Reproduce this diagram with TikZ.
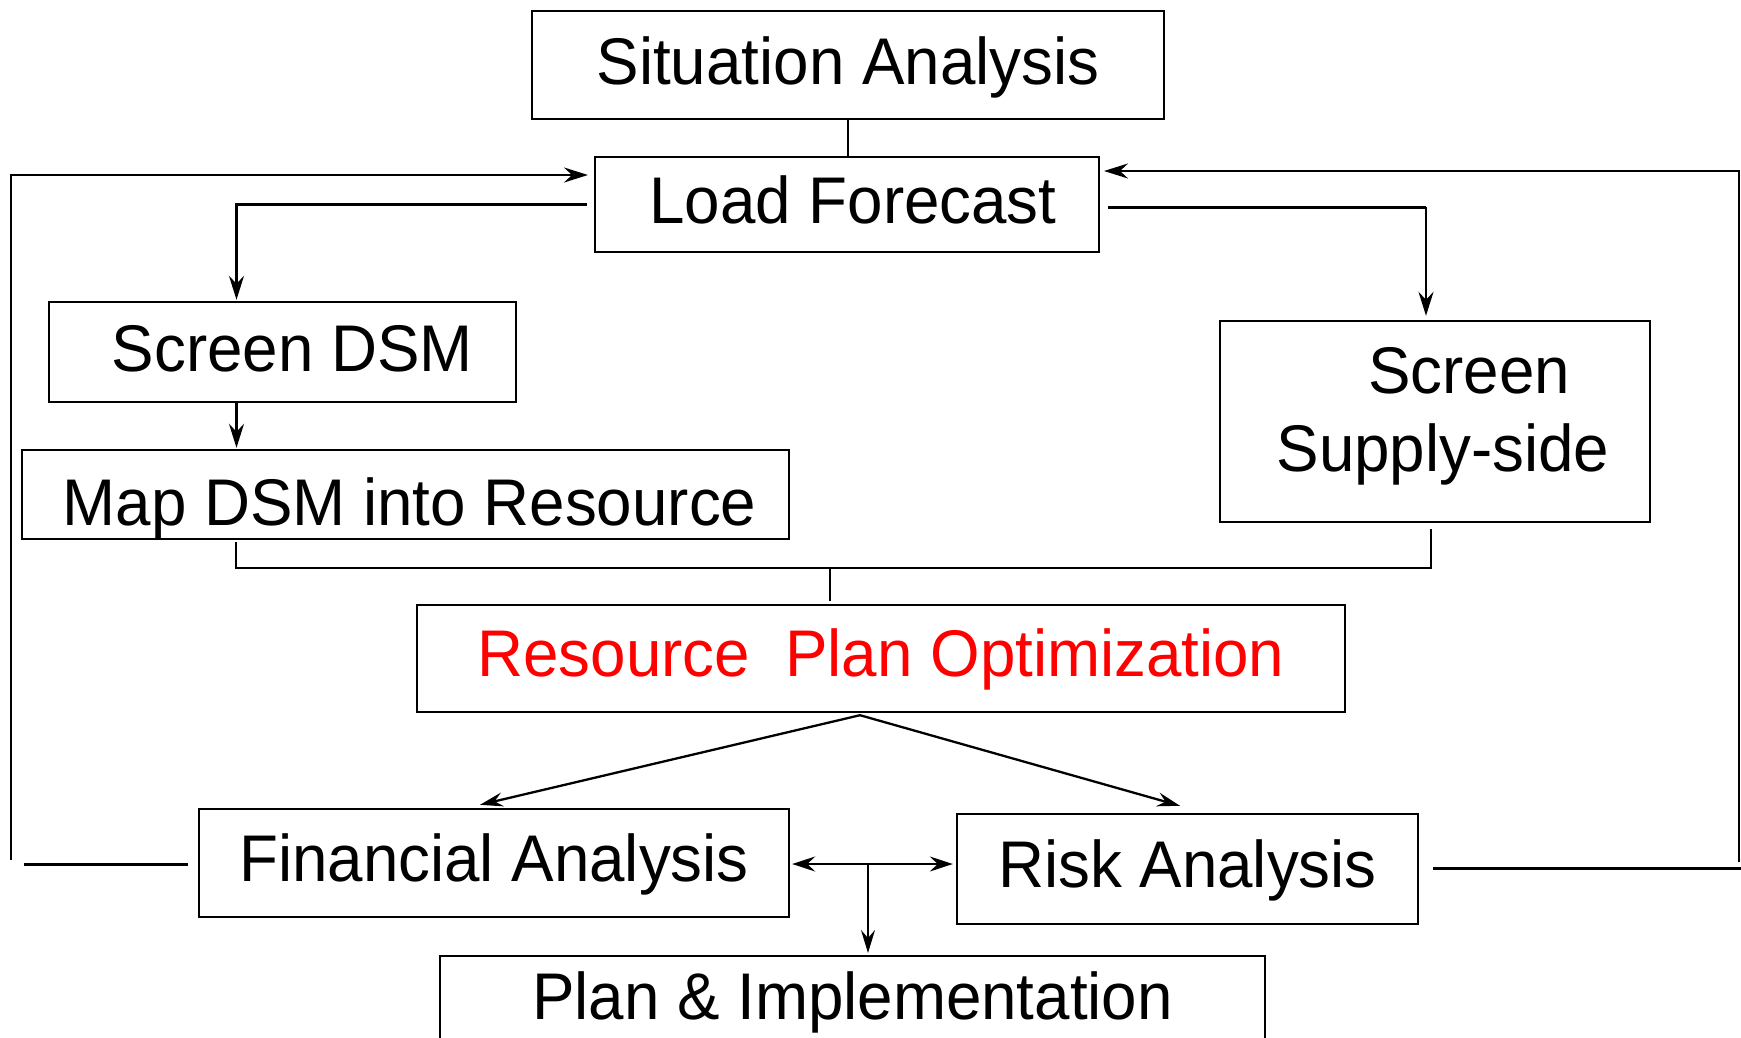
\documentclass[tikz,border=0pt]{standalone}
\usepackage{fontspec}
\setmainfont{Liberation Sans}[FakeStretch=0.965]
\usetikzlibrary{arrows.meta}
\definecolor{optred}{RGB}{255,0,0}
\begin{document}
\begin{tikzpicture}[x=1pt,y=-1pt,
  box/.style={draw,line width=2.4pt,rectangle,inner sep=0pt,font=\fontsize{66}{77}\selectfont,align=center,
    text height=47.3pt,text depth=9pt},
  conn/.style={line width=2.3pt},
  thickconn/.style={line width=3pt},
  bigarr/.style={-{Stealth[length=24pt,width=15pt,inset=8pt]}},
  smallarr/.style={-{Stealth[length=23pt,width=14pt,inset=8pt]}},
  dblarr/.style={{Stealth[length=23pt,width=15pt,inset=8pt]}-{Stealth[length=23pt,width=15pt,inset=8pt]}}]
\clip (0,0) rectangle (1741,1038);
\fill[white] (0,0) rectangle (1741,1038);

\node[box,minimum width=632pt,minimum height=108pt,text depth=8pt] (sa) at (848,65) {Situation Analysis};
\node[box,minimum width=504pt,minimum height=95pt] (lf) at (847,204.5) {\hspace*{12pt}Load Forecast};
\node[box,minimum width=467pt,minimum height=100pt] (sdsm) at (282.5,352) {\hspace*{20pt}Screen DSM};
\node[box,minimum width=767pt,minimum height=89pt,text height=62.3pt,text depth=0pt] (map) at (405.5,494.5) {\hspace*{8pt}Map DSM into Resource};
\node[box,minimum width=430pt,minimum height=201pt,text height=,text depth=] (sup) at (1435,421.5)
  {\raisebox{0pt}[47.3pt][103.1pt]{\begin{tabular}[t]{@{}c@{}}\hspace*{68pt}Screen\\[1pt]\hspace*{16pt}Supply-side\end{tabular}}};
\node[box,minimum width=928pt,minimum height=107pt,text=optred,text depth=11pt] (rpo) at (881,658.5) {Resource\ \ Plan Optimization};
\node[box,minimum width=590pt,minimum height=108pt,text depth=10pt] (fin) at (494,863) {Financial Analysis};
\node[box,minimum width=461pt,minimum height=110pt,text depth=10pt] (risk) at (1187.5,869) {Risk Analysis};
\node[box,minimum width=825pt,minimum height=105pt,text depth=25pt,anchor=north] (plan) at (852.5,955) {Plan \& Implementation};

% situation -> load forecast
\draw[conn] (sa.south) -- (sa.south |- lf.north);

% load forecast -> screen DSM
\draw[conn,bigarr] ([xshift=-7pt]lf.west) -| ([xshift=-46pt,yshift=1pt]sdsm.north);
% screen DSM -> map
\draw[conn,bigarr] ([xshift=-46pt]sdsm.south) -- ([xshift=-46pt,yshift=1pt]sdsm.south |- map.north);
% load forecast -> screen supply
\coordinate (lfr) at ([xshift=8pt,yshift=-2.5pt]lf.east);
\coordinate (supc) at ([xshift=-9pt]sup.north |- lfr);
\draw[thickconn] (lfr) -- (supc);
\draw[conn,bigarr] (supc) -- ([xshift=-9pt,yshift=4pt]sup.north);

% merge into optimization
\coordinate (mj) at (830,568);
\draw[conn] ([xshift=-169.5pt,yshift=-2pt]map.south) |- (mj) -| ([xshift=-4pt,yshift=-6pt]sup.south);
\draw[conn] (mj) -- ([yshift=3pt]mj |- rpo.north);

% optimization -> financial / risk
\draw[conn,smallarr] ([xshift=-21pt,yshift=-2pt]rpo.south) -- ([xshift=-14pt,yshift=3pt]fin.north);
\draw[conn,smallarr] ([xshift=-21pt,yshift=-2pt]rpo.south) -- ([xshift=-7.5pt,yshift=7pt]risk.north);

% financial <-> risk, and down to plan
\coordinate (mid) at (868,864);
\draw[conn,dblarr] ([xshift=2pt]fin.east |- mid) -- ([xshift=-3pt]risk.west |- mid);
\draw[conn,smallarr] (mid) -- ([yshift=2pt]mid |- plan.north);

% left feedback loop
\coordinate (lb1) at (24,864);
\coordinate (lb2) at (11,860);
\coordinate (lft) at (588,175);
\draw[thickconn] ([xshift=-10pt]fin.west |- mid) -- (lb1);
\draw[conn,bigarr] (lb2) |- (lft);

% right feedback loop
\coordinate (rb1) at (1741,868);
\coordinate (rb2) at (1739,862);
\coordinate (rft) at (1104,171);
\draw[thickconn] ([xshift=14pt]risk.east |- rb1) -- (rb1);
\draw[conn,bigarr] (rb2) |- (rft);
\end{tikzpicture}
\end{document}
